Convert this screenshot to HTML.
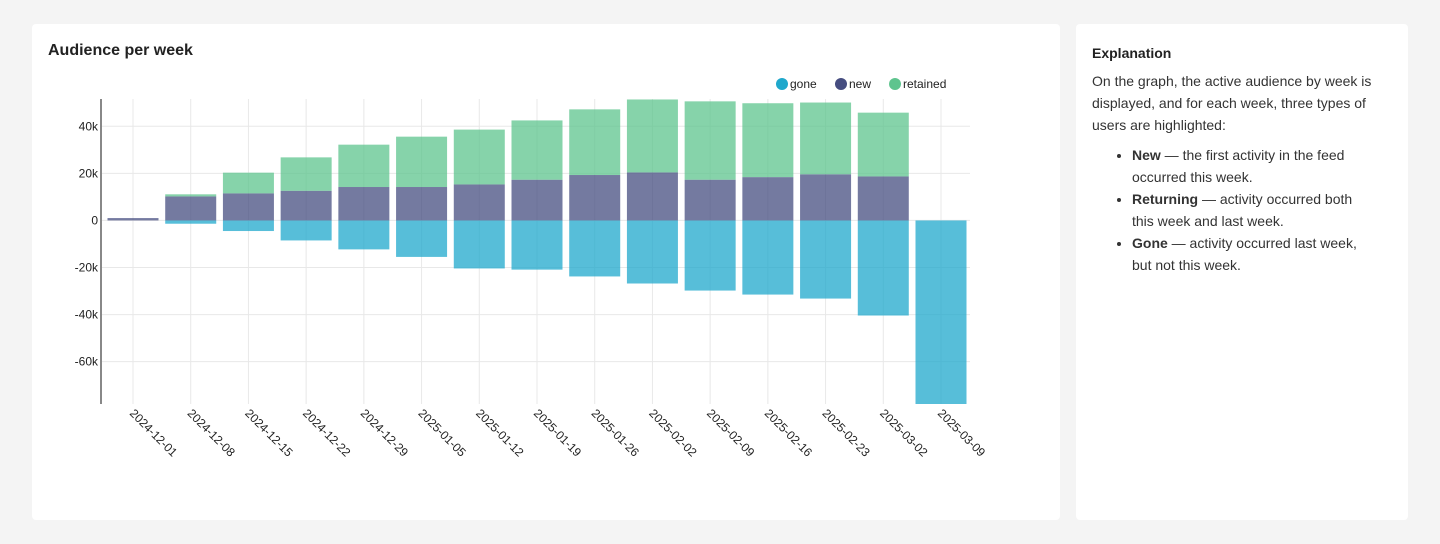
<!DOCTYPE html>
<html><head><meta charset="utf-8"><style>
body{margin:0;width:1440px;height:544px;background:#f4f4f4;font-family:"Liberation Sans",sans-serif;overflow:hidden;position:relative}
.card{position:absolute;background:#fff;border-radius:4px}
h2{position:absolute;left:16px;top:18px;margin:0;font-size:16px;font-weight:bold;color:#222}
.exp{font-size:14px;color:#333;line-height:22px}
.exp h3{margin:0;position:absolute;left:16px;top:18px;font-size:14px;color:#222}
.exp p{position:absolute;left:16px;top:46px;margin:0;width:300px}
.exp ul{position:absolute;left:16px;top:120px;margin:0;padding-left:40px;width:230px}
</style></head><body>
<div class="card" style="left:32px;top:24px;width:1028px;height:496px">
<h2>Audience per week</h2>
</div>
<div class="card exp" style="left:1076px;top:24px;width:332px;height:496px">
<h3>Explanation</h3>
<p>On the graph, the active audience by week is displayed, and for each week, three types of users are highlighted:</p>
<ul>
<li><b>New</b> — the first activity in the feed occurred this week.</li>
<li><b>Returning</b> — activity occurred both this week and last week.</li>
<li><b>Gone</b> — activity occurred last week, but not this week.</li>
</ul>
</div>
<svg id="chart" width="1440" height="544" style="position:absolute;left:0;top:0" font-family="Liberation Sans, sans-serif">
<g font-size="12" fill="#222">
<circle cx="782" cy="84" r="6" fill="#1fa8cc"/><text x="790" y="88">gone</text>
<circle cx="841" cy="84" r="6" fill="#464d80"/><text x="849" y="88">new</text>
<circle cx="895" cy="84" r="6" fill="#5ec48e"/><text x="903" y="88">retained</text>
</g>
</svg>
<script>
const categories=["2024-12-01","2024-12-08","2024-12-15","2024-12-22","2024-12-29","2025-01-05","2025-01-12","2025-01-19","2025-01-26","2025-02-02","2025-02-09","2025-02-16","2025-02-23","2025-03-02","2025-03-09"];
const newVals=[1000,10200,11500,12600,14200,14200,15300,17300,19300,20400,17300,18400,19600,18700,0];
const retainedVals=[0,900,8800,14200,18000,21400,23300,25200,27900,31000,33300,31400,30500,27100,0];
const goneVals=[0,-1400,-4500,-8500,-12300,-15500,-20400,-20900,-23800,-26800,-29800,-31500,-33200,-40400,-80000];
const yTicks=[-60000,-40000,-20000,0,20000,40000];
const yTickLabels=["-60k","-40k","-20k","0","20k","40k"];
const svg=document.getElementById('chart');
const NS='http://www.w3.org/2000/svg';
const plotL=101,plotR=970,plotT=99,plotB=404,yMin=-78000,yMax=51600;
const y=v=>plotB-(v-yMin)/(yMax-yMin)*(plotB-plotT);
const step=(941-133)/(categories.length-1);
const x=i=>133+i*step;
const bw=51;
function el(t,a){const e=document.createElementNS(NS,t);for(const k in a)e.setAttribute(k,a[k]);svg.appendChild(e);return e;}
yTicks.forEach((v,i)=>{
 const g=el('line',{x1:plotL,x2:plotR,y1:y(v),y2:y(v),stroke:'#e8e8e8'});
 
 
 const t=el('text',{x:plotL-3,y:y(v)+4,'text-anchor':'end','font-size':12,fill:'#222'});
 t.textContent=yTickLabels[i];
 
 
});
categories.forEach((c,i)=>{
 const g=el('line',{x1:x(i),x2:x(i),y1:plotT,y2:plotB,stroke:'#e8e8e8'});
 
 
 const t=el('text',{x:0,y:0,'font-size':12,fill:'#222',transform:`translate(${x(i)-4},${plotB+10}) rotate(45)`});
 t.textContent=c;
 
 
});
function bar(i,v0,v1,color,name){
 if(v1===v0)return;
 const top=y(Math.max(v0,v1)),bot=Math.min(y(Math.min(v0,v1)),plotB);
 const r=el('rect',{x:x(i)-bw/2,y:top,width:bw,height:Math.max(bot-top,2),fill:color,'fill-opacity':0.75});
 
 
}
categories.forEach((c,i)=>{
 bar(i,0,goneVals[i],'#1fa8cc','bar-gone');
 bar(i,0,newVals[i],'#464d80','bar-new');
 bar(i,newVals[i],newVals[i]+retainedVals[i],'#5ec48e','bar-retained');
});
const ax=el('line',{x1:plotL,x2:plotL,y1:plotT,y2:plotB,stroke:'#888','stroke-width':2});


</script>
</body></html>
